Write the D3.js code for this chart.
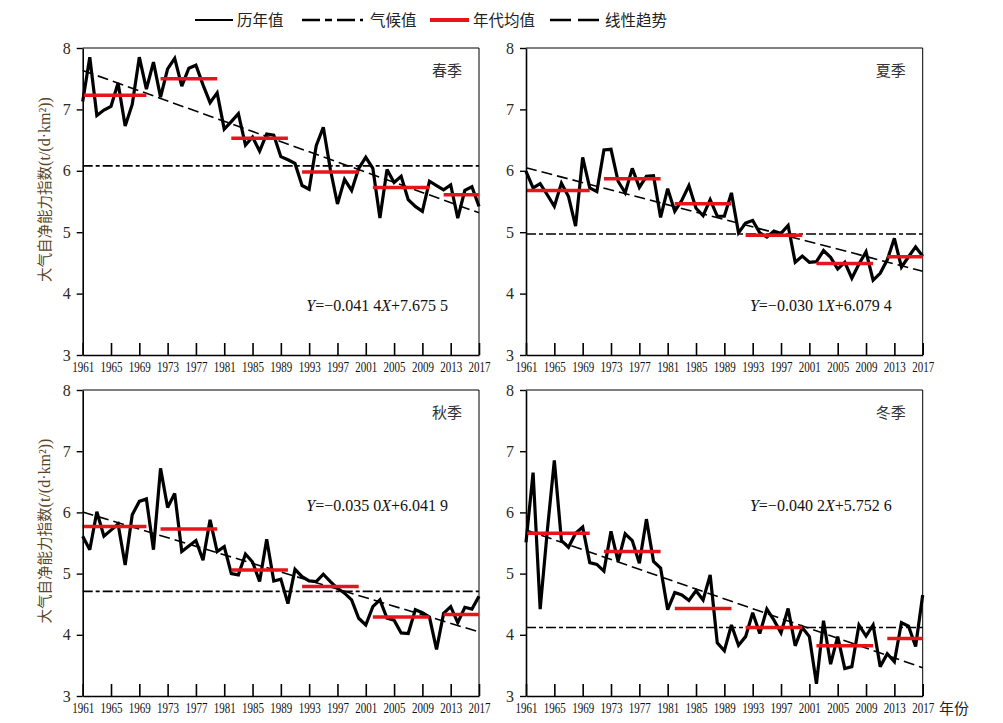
<!DOCTYPE html>
<html><head><meta charset="utf-8">
<script src="https://cdn.jsdelivr.net/npm/d3@7"></script>
<style>body{margin:0;background:#fff}</style>
</head><body><svg id="c" width="1003" height="723"></svg>
<script>
// ---------------- DATA ----------------
const years = d3.range(1961, 2018);
const seasonNames = ["春季", "夏季", "秋季", "冬季"];
const springValues = [7.13,7.85,6.90,6.99,7.05,7.43,6.73,7.08,7.85,7.33,
  7.77,7.20,7.66,7.83,7.38,7.67,7.72,7.40,7.11,7.27,
  6.68,6.80,6.93,6.42,6.55,6.32,6.60,6.58,6.23,6.18,
  6.12,5.76,5.70,6.41,6.71,6.02,5.46,5.86,5.68,6.04,
  6.22,6.04,5.23,6.02,5.81,5.91,5.53,5.42,5.34,5.83,
  5.76,5.69,5.77,5.23,5.68,5.74,5.42];
const summerValues = [5.99,5.72,5.79,5.61,5.42,5.80,5.58,5.10,6.22,5.72,
  5.66,6.34,6.35,5.83,5.64,6.04,5.73,5.91,5.92,5.24,
  5.71,5.34,5.52,5.76,5.39,5.27,5.53,5.26,5.26,5.64,
  4.99,5.15,5.19,4.99,4.92,5.02,4.98,5.11,4.51,4.61,
  4.51,4.52,4.70,4.59,4.40,4.51,4.25,4.48,4.68,4.22,
  4.33,4.55,4.90,4.43,4.60,4.76,4.61];
const autumnValues = [5.61,5.39,6.01,5.61,5.71,5.81,5.14,5.96,6.18,6.22,
  5.39,6.72,6.08,6.31,5.36,5.45,5.54,5.22,5.88,5.36,
  5.44,5.00,4.98,5.32,5.19,4.87,5.56,4.88,4.91,4.51,
  5.07,4.95,4.88,4.87,4.99,4.87,4.76,4.68,4.57,4.27,
  4.16,4.46,4.57,4.27,4.24,4.03,4.02,4.41,4.36,4.29,
  3.76,4.35,4.46,4.20,4.45,4.42,4.63];
const winterValues = [5.51,6.65,4.42,5.69,6.85,5.54,5.43,5.66,5.76,5.18,
  5.15,5.04,5.69,5.20,5.65,5.54,5.17,5.89,5.20,5.09,
  4.41,4.69,4.65,4.56,4.72,4.57,4.98,3.87,3.74,4.16,
  3.83,3.97,4.36,4.02,4.42,4.24,4.03,4.43,3.82,4.12,
  3.97,3.20,4.23,3.52,3.97,3.45,3.48,4.16,3.98,4.16,
  3.48,3.69,3.56,4.20,4.14,3.81,4.65];
const climateValues = [6.08, 4.97, 4.71, 4.12];
const decadeStarts = [1961, 1972, 1982, 1992, 2002, 2012];
const decadeEnds   = [1970, 1980, 1990, 2000, 2010, 2017];
const springDecade = [7.23, 7.50, 6.53, 5.98, 5.73, 5.61];
const summerDecade = [5.68, 5.87, 5.465, 4.95, 4.49, 4.60];
const autumnDecade = [5.77, 5.73, 5.06, 4.79, 4.29, 4.33];
const winterDecade = [5.66, 5.36, 4.43, 4.12, 3.82, 3.94];
const trendSlopes     = [-0.0414, -0.0301, -0.0350, -0.0402];
const trendIntercepts = [7.6755, 6.0794, 6.0419, 5.7526];
const slopeLabels     = ["0.041 4", "0.030 1", "0.035 0", "0.040 2"];
const interceptLabels = ["7.675 5", "6.079 4", "6.041 9", "5.752 6"];
const xTickYears = d3.range(1961, 2018, 4);
const yTickValues = [3, 4, 5, 6, 7, 8];
const legendLabels = ["历年值", "气候值", "年代均值", "线性趋势"];
const yTitleCjk = "大气自净能力指数";
const yTitleUnit = "(t/(d·km²))";
const xTitle = "年份";

const annualSeries = [springValues, summerValues, autumnValues, winterValues];
const decadeSeries = [springDecade, summerDecade, autumnDecade, winterDecade];

// ---------------- LAYOUT ----------------
const panels = [
  {x0: 82.7, x1: 479, y0: 48, y1: 355, eqY: 3.72, yTitle: true},
  {x0: 526, x1: 922.7, y0: 48, y1: 355, eqY: 3.72, yTitle: false},
  {x0: 82.7, x1: 479, y0: 390, y1: 696, eqY: 6.02, yTitle: true},
  {x0: 526, x1: 922.7, y0: 390, y1: 696, eqY: 6.02, yTitle: false}
];
const serif = "'Liberation Serif','Times New Roman',serif";
const cjk = "'Noto Sans CJK SC','Noto Sans',sans-serif";
const RED = "#e8141b";
const CLIM_DASH = "10,3,4,3";
const TREND_DASH = "11,5";

const svg = d3.select("#c");

panels.forEach((p, i) => {
  const x = d3.scaleLinear().domain([1961, 2017]).range([p.x0, p.x1]);
  const y = d3.scaleLinear().domain([3, 8]).range([p.y1, p.y0]);
  const g = svg.append("g");

  // frame top/right
  g.append("line").attr("x1", p.x0).attr("x2", p.x1).attr("y1", p.y0).attr("y2", p.y0)
    .attr("stroke", "#000").attr("stroke-width", 1);
  g.append("line").attr("x1", p.x1).attr("x2", p.x1).attr("y1", p.y0).attr("y2", p.y1)
    .attr("stroke", "#000").attr("stroke-width", 1);

  // climate line
  g.append("line").attr("x1", x(1961)).attr("x2", x(2017))
    .attr("y1", y(climateValues[i])).attr("y2", y(climateValues[i]))
    .attr("stroke", "#000").attr("stroke-width", 1.6).attr("stroke-dasharray", CLIM_DASH);

  // trend line (from fitted equation, X = year index 1..57)
  const tY = yr => trendSlopes[i] * (yr - 1960) + trendIntercepts[i];
  g.append("line").attr("x1", x(1961)).attr("x2", x(2017))
    .attr("y1", y(tY(1961))).attr("y2", y(tY(2017)))
    .attr("stroke", "#000").attr("stroke-width", 1.6).attr("stroke-dasharray", TREND_DASH);

  // annual line
  const line = d3.line().x((d, k) => x(years[k])).y(d => y(d));
  g.append("path").datum(annualSeries[i]).attr("d", line)
    .attr("fill", "none").attr("stroke", "#000").attr("stroke-width", 3.2)
    .attr("stroke-linejoin", "miter").attr("stroke-miterlimit", 3);

  // decade means
  g.selectAll(".dec").data(decadeSeries[i]).enter().append("line")
    .attr("x1", (d, k) => x(decadeStarts[k])).attr("x2", (d, k) => x(decadeEnds[k]))
    .attr("y1", d => y(d)).attr("y2", d => y(d))
    .attr("stroke", RED).attr("stroke-width", 3.5);

  // x axis
  const xa = g.append("g").attr("transform", `translate(0,${p.y1})`)
    .call(d3.axisBottom(x).tickValues(xTickYears).tickFormat(d3.format("d"))
      .tickSize(-12).tickSizeOuter(0).tickPadding(7));
  xa.select(".domain").attr("stroke-width", 1.6);
  xa.selectAll(".tick line").attr("stroke-width", 1.6);
  xa.selectAll("text").attr("font-family", serif).attr("font-size", 14).attr("fill", "#111")
    .attr("textLength", 22).attr("lengthAdjust", "spacingAndGlyphs");

  // y axis
  const ya = g.append("g").attr("transform", `translate(${p.x0},0)`)
    .call(d3.axisLeft(y).tickValues(yTickValues).tickFormat(d3.format("d"))
      .tickSize(6).tickSizeOuter(0).tickPadding(6));
  ya.select(".domain").attr("stroke-width", 1.6);
  ya.selectAll(".tick line").attr("stroke-width", 1.4);
  ya.selectAll("text").attr("font-family", serif).attr("font-size", 16).attr("fill", "#2e2a22");

  // season label
  g.append("text").attr("x", p.x1 - 17).attr("y", p.y0 + 28)
    .attr("text-anchor", "end").attr("font-family", cjk).attr("font-size", 15)
    .attr("fill", "#333").text(seasonNames[i]);

  // equation
  const eq = g.append("text").attr("x", p.x1 - 31).attr("y", y(p.eqY))
    .attr("text-anchor", "end").attr("font-family", serif).attr("font-size", 16).attr("fill", "#111");
  eq.append("tspan").attr("font-style", "italic").text("Y");
  eq.append("tspan").text("=−" + slopeLabels[i]);
  eq.append("tspan").attr("font-style", "italic").text("X");
  eq.append("tspan").text("+" + interceptLabels[i]);

  // y title
  if (p.yTitle) {
    const cy = (p.y0 + p.y1) / 2 - 12;
    const t = g.append("text").attr("transform", `translate(50,${cy}) rotate(-90)`)
      .attr("text-anchor", "middle").attr("font-family", cjk).attr("font-size", 14.5)
      .attr("fill", "#5a4626");
    t.append("tspan").text(yTitleCjk);
    t.append("tspan").attr("font-family", serif).attr("font-size", 16).text(yTitleUnit);
  }
});

// x title
svg.append("text").attr("x", 939).attr("y", 714).attr("font-family", cjk)
  .attr("font-size", 15).attr("fill", "#222").text(xTitle);

// ---------------- LEGEND ----------------
const legendItems = [
  {x1: 195, x2: 233, tx: 237, stroke: "#000", w: 2.2, dash: null},
  {x1: 302, x2: 363, tx: 370, stroke: "#000", w: 2.6, dash: "18,5,7,5"},
  {x1: 430, x2: 469, tx: 473, stroke: RED, w: 4, dash: null},
  {x1: 550, x2: 599, tx: 605, stroke: "#000", w: 2.6, dash: "21,7"}
];
const lg = svg.append("g");
legendItems.forEach((d, k) => {
  lg.append("line").attr("x1", d.x1).attr("x2", d.x2).attr("y1", 20).attr("y2", 20)
    .attr("stroke", d.stroke).attr("stroke-width", d.w)
    .attr("stroke-dasharray", d.dash);
  lg.append("text").attr("x", d.tx).attr("y", 26).attr("font-family", cjk)
    .attr("font-size", 15.5).attr("fill", "#222").text(legendLabels[k]);
});
</script></body></html>
